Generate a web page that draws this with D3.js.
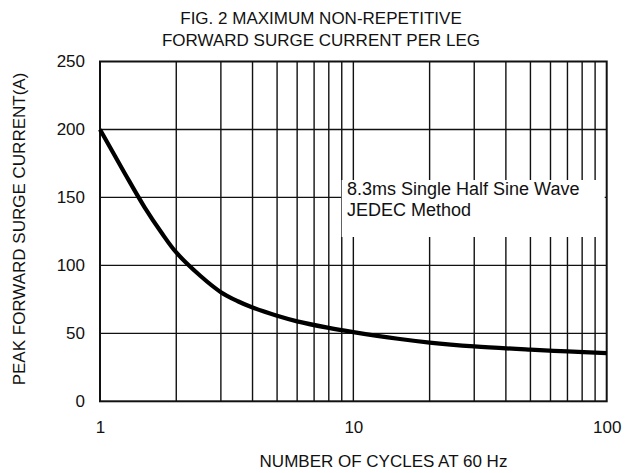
<!DOCTYPE html>
<html>
<head>
<meta charset="utf-8">
<script src="https://cdn.jsdelivr.net/npm/d3@7"></script>
<style>
  body { margin: 0; background: #fff; }
  svg text { font-family: "Liberation Sans", Arial, sans-serif; fill: #111; }
</style>
</head>
<body>
<div id="chart"></div>
<script>
// data
const cycles  = [1, 1.25, 1.5, 1.75, 2, 2.5, 3, 3.5, 4, 5, 6, 8, 10, 15, 20, 30, 50, 70, 100];
const current = [200, 168, 142.7, 124, 109.5, 92, 80.3, 73.6, 69, 62.9, 58.8, 54, 50.9, 46, 43.2, 40.4, 38, 36.7, 35.5];

const xTickLabels = [1, 10, 100];
const yTickLabels = [0, 50, 100, 150, 200, 250];
const xGrid = [2, 3, 4, 5, 6, 7, 8, 9, 10, 20, 30, 40, 50, 60, 70, 80, 90];
const yGrid = [50, 100, 150, 200];

const titleLines = ["FIG. 2 MAXIMUM NON-REPETITIVE", "FORWARD SURGE CURRENT PER LEG"];
const noteLines = ["8.3ms Single Half Sine Wave", "JEDEC Method"];

const width = 636, height = 473;
const plotLeft = 100, plotRight = 606.7, plotTop = 61.5, plotBottom = 401.3;

const svg = d3.select("#chart")
  .append("svg")
    .attr("width", width)
    .attr("height", height);

const x = d3.scaleLog().domain([1, 100]).range([plotLeft, plotRight]);
const y = d3.scaleLinear().domain([0, 250]).range([plotBottom, plotTop]);

// title
svg.selectAll(".title")
  .data(titleLines)
  .join("text")
    .attr("x", 321)
    .attr("y", (d, i) => 24 + i * 22)
    .attr("text-anchor", "middle")
    .style("font-size", "17px")
    .text(d => d);

// grid
const grid = svg.append("g")
  .attr("stroke", "#111")
  .attr("stroke-width", 1.4);

grid.selectAll(".vg")
  .data(xGrid)
  .join("line")
    .attr("x1", d => x(d)).attr("x2", d => x(d))
    .attr("y1", plotTop).attr("y2", plotBottom);

grid.selectAll(".hg")
  .data(yGrid)
  .join("line")
    .attr("x1", plotLeft).attr("x2", plotRight)
    .attr("y1", d => y(d)).attr("y2", d => y(d));

// note box hides the grid behind it
svg.append("rect")
  .attr("x", 341.7)
  .attr("y", 180)
  .attr("width", 263)
  .attr("height", 57)
  .attr("fill", "#fff");

svg.selectAll(".note")
  .data(noteLines)
  .join("text")
    .attr("x", 347)
    .attr("y", (d, i) => 195 + i * 20.8)
    .style("font-size", "18px")
    .text(d => d);

// frame
svg.append("rect")
  .attr("x", plotLeft)
  .attr("y", plotTop)
  .attr("width", plotRight - plotLeft)
  .attr("height", plotBottom - plotTop)
  .attr("fill", "none")
  .attr("stroke", "#111")
  .attr("stroke-width", 2);

// curve
const line = d3.line()
  .x(d => x(d[0]))
  .y(d => y(d[1]))
  .curve(d3.curveCatmullRom.alpha(0.5));

svg.append("path")
  .datum(d3.zip(cycles, current))
  .attr("d", line)
  .attr("fill", "none")
  .attr("stroke", "#000")
  .attr("stroke-width", 4.2);

// axes labels
svg.append("g")
  .attr("transform", `translate(0,${plotBottom})`)
  .call(d3.axisBottom(x).tickValues(xTickLabels).tickFormat(d3.format("d")).tickSize(0).tickPadding(20))
  .call(g => g.select(".domain").remove())
  .selectAll("text")
    .style("font-size", "17px")
    .attr("fill", "#111");

svg.append("g")
  .attr("transform", `translate(${plotLeft},0)`)
  .call(d3.axisLeft(y).tickValues(yTickLabels).tickSize(0).tickPadding(15))
  .call(g => g.select(".domain").remove())
  .selectAll("text")
    .style("font-size", "17px")
    .attr("fill", "#111");

svg.append("text")
  .attr("x", 383.5)
  .attr("y", 466.5)
  .attr("text-anchor", "middle")
  .style("font-size", "17px")
  .text("NUMBER OF CYCLES AT 60 Hz");

svg.append("text")
  .attr("transform", "translate(24.5,229) rotate(-90)")
  .attr("text-anchor", "middle")
  .style("font-size", "17px")
  .text("PEAK FORWARD SURGE CURRENT(A)");
</script>
</body>
</html>
